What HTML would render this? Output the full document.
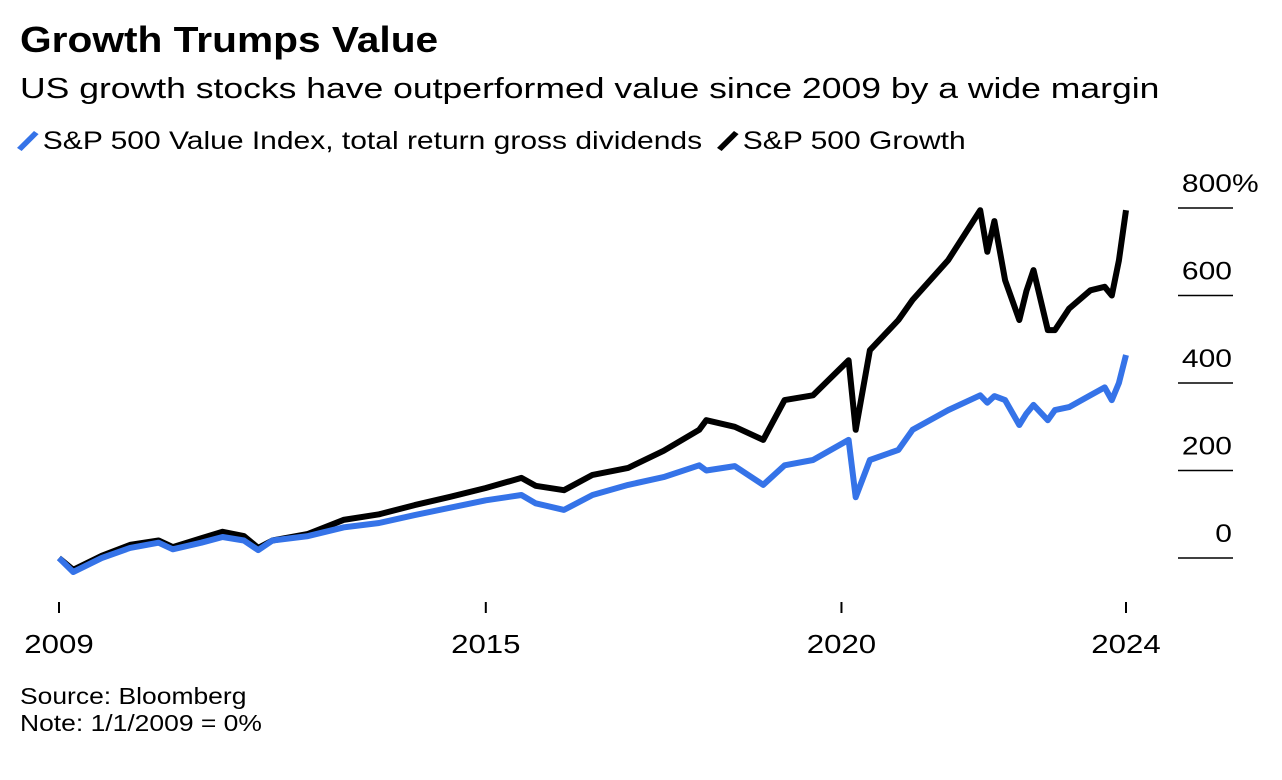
<!DOCTYPE html>
<html><head><meta charset="utf-8">
<style>
body{margin:0;background:#fff;font-family:"Liberation Sans",sans-serif;color:#000}
#w{position:relative;width:1282px;height:780px;overflow:hidden}
.t{position:absolute;white-space:nowrap;transform-origin:0 0}
</style></head><body>
<div id="w">
<div class="t" style="left:20px;top:19px;font-size:36px;font-weight:bold;transform:scaleX(1.13)">Growth Trumps Value</div>
<div class="t" style="left:20px;top:73px;font-size:29px;transform:scaleX(1.225)">US growth stocks have outperformed value since 2009 by a wide margin</div>
<div class="t" style="left:20px;top:127px;font-size:25px;transform:scaleX(1.2)"><span style="display:inline-block;width:5px;height:22px;background:#3573e8;transform:rotate(40deg);margin:0 10px -3px 4px"></span>S&amp;P 500 Value Index, total return gross dividends</div>
<div class="t" style="left:720px;top:127px;font-size:25px;transform:scaleX(1.2)"><span style="display:inline-block;width:5px;height:22px;background:#000;transform:rotate(40deg);margin:0 10px -3px 4px"></span>S&amp;P 500 Growth</div>
<svg id="c" width="1282" height="780" style="position:absolute;left:0;top:0"></svg>
<div class="t" style="left:20px;top:683px;font-size:23px;line-height:27px;transform:scaleX(1.15)">Source: Bloomberg<br>Note: 1/1/2009 = 0%</div>
</div>
<script>
const yTicks=[0,200,400,600,800];
const xTicks=[2009,2015,2020,2024];
const dates=[2009,2009.2,2009.6,2010,2010.4,2010.6,2011,2011.3,2011.6,2011.8,2012,2012.5,2013,2013.5,2014,2014.5,2015,2015.5,2015.7,2016.1,2016.5,2017,2017.5,2018,2018.1,2018.5,2018.9,2019.2,2019.6,2020.1,2020.2,2020.4,2020.8,2021,2021.5,2021.95,2022.05,2022.15,2022.3,2022.5,2022.6,2022.7,2022.9,2023,2023.2,2023.5,2023.7,2023.8,2023.9,2024];
const growth=[0,-27,5,30,40,25,45,60,50,23,40,55,87,100,121,140,160,183,165,155,190,206,245,293,315,300,270,361,372,452,293,475,544,590,681,795,700,770,635,544,610,658,521,521,570,612,620,600,680,795];
const value=[0,-32,0,23,35,20,35,48,40,18,40,50,70,80,98,115,132,144,125,110,144,167,185,212,200,210,167,212,224,270,139,224,247,293,338,372,355,370,361,304,330,350,315,338,345,372,390,361,400,464];
const svg=document.getElementById('c');const NS='http://www.w3.org/2000/svg';
const X=d=>59+(d-2009)*(1126-59)/15;
const Y=v=>558-v*0.4375;
function mk(t,a){const e=document.createElementNS(NS,t);for(const k in a)e.setAttribute(k,a[k]);svg.appendChild(e);return e;}
yTicks.forEach(v=>{
 const l=mk('line',{x1:1178,x2:1233,y1:Y(v),y2:Y(v),stroke:'#000','stroke-width':1.5});
 
 
 const t=mk('text',{x:1232/1.2,y:Y(v)-16,'text-anchor':'end','font-size':25,'font-family':'Liberation Sans',transform:'scale(1.2,1)'});
 t.textContent=v;
 
 
 if(v===800){const p=mk('text',{x:1232/1.2,y:Y(v)-16,'font-size':25,'font-family':'Liberation Sans',transform:'scale(1.2,1)'});p.textContent='%';
 
 }
});
xTicks.forEach(d=>{
 const l=mk('line',{x1:X(d),x2:X(d),y1:602,y2:613,stroke:'#000','stroke-width':2});
 
 
 const t=mk('text',{x:X(d)/1.2,y:653,'text-anchor':'middle','font-size':26,'font-family':'Liberation Sans',transform:'scale(1.2,1)'});
 t.textContent=d;
 
 
});
function line(arr,color,name){
 const p=mk('path',{d:arr.map((v,i)=>(i?'L':'M')+X(dates[i]).toFixed(1)+','+Y(v).toFixed(1)).join(''),fill:'none',stroke:color,'stroke-width':6,'stroke-linejoin':'round'});
 
 
}
line(growth,'#000','growth-line');
line(value,'#3573e8','value-line');
</script>
</body></html>
